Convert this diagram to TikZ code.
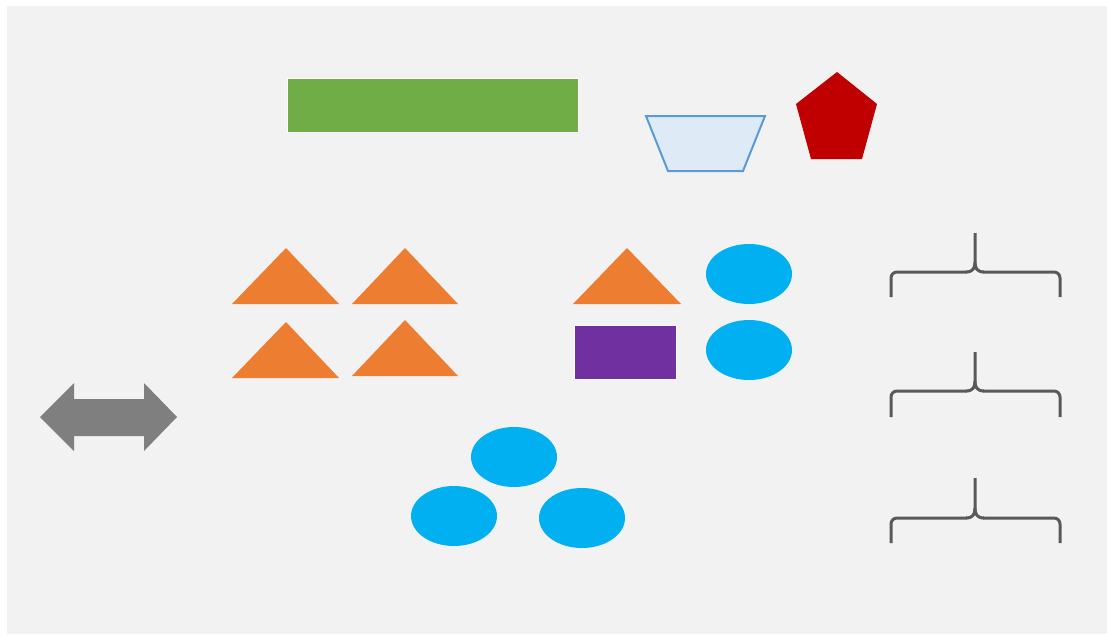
\documentclass[tikz,border=0pt]{standalone}
\begin{document}
\begin{tikzpicture}[x=1pt,y=-1pt,
  tri/.style={fill=triorange},
  blob/.style={fill=blobblue},
  brace/.style={draw=bracegray,line width=3pt,line cap=butt,line join=round}]
\definecolor{bg}{HTML}{F2F2F2}
\definecolor{triorange}{HTML}{ED7D31}
\definecolor{blobblue}{HTML}{00B0F0}
\definecolor{bracegray}{HTML}{595959}
\definecolor{barGreen}{HTML}{70AD47}
\definecolor{boxPurple}{HTML}{7030A0}
\definecolor{trapFill}{HTML}{DEEBF7}
\definecolor{trapLine}{HTML}{5B9BD5}
\definecolor{pentRed}{HTML}{C00000}
\definecolor{arrowGray}{HTML}{7F7F7F}
\useasboundingbox (0,0) rectangle (1109,635);
\fill[white] (0,0) rectangle (1109,635);
\fill[bg] (7,6) rectangle (1107,634);
% green bar
\fill[barGreen,draw=white,line width=0.8pt] (287,78) rectangle (578,132);
% trapezoid
\draw[fill=trapFill,draw=trapLine,line width=2pt,line join=miter] (646,116) -- (765,116) -- (743,171) -- (668,171) -- cycle;
% pentagon
\fill[pentRed] (837,72) -- (877,104) -- (862,159) -- (811,159) -- (796,104) -- cycle;
% triangles
\fill[tri] (232,304) -- (286,248) -- (339,304) -- cycle;
\fill[tri] (352,304) -- (405,248) -- (458,304) -- cycle;
\fill[tri] (232,378) -- (286,322) -- (339,378) -- cycle;
\fill[tri] (352,376) -- (405,320) -- (458,376) -- cycle;
\fill[tri] (573,304) -- (627,248) -- (681,304) -- cycle;
% purple box
\fill[boxPurple,draw=white,line width=0.8pt] (574,325) rectangle (676,379);
% ellipses
\fill[blob] (749,274) ellipse [x radius=43, y radius=30];
\fill[blob] (749,350) ellipse [x radius=43, y radius=30];
\fill[blob] (514,457) ellipse [x radius=43, y radius=30];
\fill[blob] (454,516) ellipse [x radius=43, y radius=30];
\fill[blob] (582,518) ellipse [x radius=43, y radius=30];
% double arrow
\fill[arrowGray] (40,417) -- (74,383) -- (74,399) -- (144,399) -- (144,383) -- (177,417) -- (144,451) -- (144,436) -- (74,436) -- (74,451) -- cycle;
% braces
\foreach \t/\m/\e in {233/272/297, 352/391/417, 478/518/543}{
  \draw[brace,rounded corners=6pt] (891,\e) |- (967,\m);
  \draw[brace] (966,\m) .. controls (973,\m) and (975,\m-4) .. (975,\m-10) -- (975,\t);
  \draw[brace] (975,\m-10) .. controls (975,\m-4) and (977,\m) .. (984,\m);
  \draw[brace,rounded corners=6pt] (983,\m) -| (1060,\e);
}
\end{tikzpicture}
\end{document}
